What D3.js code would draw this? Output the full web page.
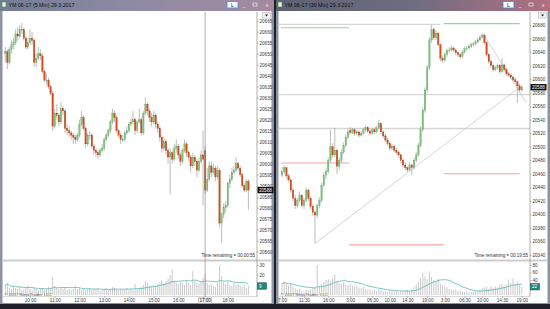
<!DOCTYPE html>
<html>
<head>
<meta charset="utf-8">
<script src="https://cdn.jsdelivr.net/npm/d3@7/dist/d3.min.js"></script>
<style>
  html, body { margin: 0; padding: 0; background: #1d2029; overflow: hidden; }
  svg { display: block; font-family: "Liberation Sans", Arial, sans-serif; }
</style>
</head>
<body>
<svg id="screen" width="550" height="309"></svg>
<script>
// ---- left window: YM 06-17 (5 Min), bars as [open, high, low, close]
var leftBars = [
  [20650,20653,20646,20651],[20651,20652,20643,20646],[20646,20653,20645,20652],[20652,20656,20650,20654],
  [20654,20657,20652,20655],[20655,20661,20654,20659],[20659,20662,20656,20658],[20658,20663,20657,20661],
  [20661,20664,20659,20661],[20661,20662,20656,20657],[20657,20658,20652,20653],[20653,20657,20652,20655],
  [20655,20661,20654,20657],[20657,20660,20654,20656],[20656,20657,20644,20646],[20646,20650,20644,20648],
  [20648,20653,20647,20650],[20650,20652,20647,20649],[20649,20650,20641,20642],[20642,20643,20637,20638],
  [20638,20641,20636,20638],[20638,20639,20634,20635],[20635,20636,20631,20632],[20632,20633,20615,20617],
  [20617,20625,20616,20623],[20623,20627,20620,20622],[20622,20623,20617,20619],[20619,20628,20618,20625],
  [20625,20626,20622,20624],[20624,20625,20614,20616],[20616,20618,20613,20615],[20615,20617,20612,20614],
  [20614,20615,20611,20613],[20613,20614,20609,20612],[20612,20613,20609,20611],[20611,20614,20610,20613],
  [20613,20620,20612,20618],[20618,20624,20617,20621],[20621,20622,20615,20616],[20616,20617,20607,20609],
  [20609,20614,20608,20613],[20613,20615,20611,20613],[20613,20614,20607,20608],[20608,20609,20604,20606],
  [20606,20607,20603,20605],[20605,20606,20602,20604],[20604,20607,20603,20606],[20606,20609,20605,20607],
  [20607,20612,20606,20611],[20611,20614,20610,20613],[20613,20616,20612,20615],[20615,20620,20614,20619],
  [20619,20625,20618,20623],[20623,20624,20619,20621],[20621,20622,20614,20615],[20615,20616,20612,20613],
  [20613,20614,20609,20611],[20611,20613,20610,20611],[20611,20615,20610,20614],[20614,20617,20613,20615],
  [20615,20619,20614,20618],[20618,20621,20617,20619],[20619,20624,20618,20620],[20620,20621,20613,20615],
  [20615,20620,20614,20619],[20619,20625,20618,20620],[20620,20621,20613,20614],[20614,20624,20613,20623],
  [20623,20630,20622,20627],[20627,20628,20622,20624],[20624,20625,20619,20621],[20621,20623,20617,20619],
  [20619,20624,20618,20622],[20622,20623,20616,20618],[20618,20619,20614,20616],[20616,20617,20610,20612],
  [20612,20613,20605,20607],[20607,20612,20606,20610],[20610,20611,20604,20606],[20606,20607,20600,20603],
  [20603,20607,20586,20605],[20605,20606,20600,20602],[20602,20609,20601,20607],[20607,20611,20605,20608],
  [20608,20609,20602,20604],[20604,20605,20599,20601],[20601,20607,20600,20606],[20606,20611,20605,20609],
  [20609,20610,20603,20605],[20605,20606,20601,20603],[20603,20604,20596,20599],[20599,20605,20598,20603],
  [20603,20604,20599,20601],[20601,20602,20594,20597],[20597,20603,20596,20601],[20601,20606,20600,20604],
  [20604,20615,20581,20602],[20606,20608,20586,20588],[20588,20598,20587,20593],[20593,20601,20592,20599],
  [20599,20601,20594,20596],[20596,20600,20595,20598],[20598,20599,20592,20594],[20594,20599,20593,20597],
  [20597,20598,20571,20573],[20573,20578,20564,20577],[20577,20582,20575,20580],[20580,20583,20578,20581],
  [20581,20592,20580,20591],[20591,20595,20589,20593],[20593,20598,20592,20596],[20596,20599,20595,20597],
  [20597,20603,20596,20600],[20600,20601,20597,20598],[20598,20599,20594,20595],[20595,20596,20589,20590],
  [20590,20591,20587,20588],[20588,20593,20587,20592],[20592,20593,20579,20588]
];
var leftVolume = [
  10,12,7,6,9,7,6,8,5,6,7,9,6,5,7,6,5,6,7,5,6,8,7,
  18,
  9,7,6,8,6,7,5,6,5,6,9,6,7,5,6,5,6,7,5,6,5,6,4,5,6,7,5,
  6,8,7,6,5,6,5,6,7,5,6,5,11,6,7,8,
  10,14,12,9,8,10,9,11,13,15,12,14,16,20,26,14,12,11,13,12,10,14,12,10,24,14,12,11,13,
  17,21,12,10,11,9,8,12,29,19,13,11,14,10,9,12,10,11,9,8,10,7,9
];
var leftPriceTicks = [20560,20565,20570,20575,20580,20585,20590,20595,20600,20605,20610,
                      20615,20620,20625,20630,20635,20640,20645,20650,20655,20660,20665];
var leftVolTicks = [20, 30];
var leftTimeBars = [12, 24, 36, 48, 60, 72, 84, 96, 108];
var leftTimeLabels = ["10:00","11:00","12:00","13:00","14:00","15:00","16:00","17:00","18:00"];
var leftCrossBar = 97;

// ---- right window: YM 06-17 (30 Min)
var rightBars = [
  [20458,20470,20455,20463],[20463,20472,20460,20469],[20469,20470,20454,20457],[20457,20460,20448,20451],
  [20451,20453,20432,20436],[20436,20440,20420,20424],[20424,20428,20408,20413],[20413,20425,20410,20421],
  [20421,20434,20418,20428],[20428,20430,20410,20413],[20413,20424,20408,20421],[20421,20440,20418,20436],
  [20436,20438,20420,20424],[20424,20427,20408,20412],[20412,20415,20398,20403],[20403,20406,20357,20399],
  [20399,20416,20395,20413],[20413,20425,20409,20421],[20421,20447,20418,20443],[20443,20462,20440,20458],
  [20458,20468,20452,20463],[20463,20484,20460,20480],[20480,20525,20477,20500],[20500,20505,20484,20488],
  [20488,20528,20485,20495],[20495,20497,20460,20471],[20471,20484,20466,20480],[20480,20496,20476,20492],
  [20492,20506,20489,20502],[20502,20518,20499,20514],[20514,20526,20511,20522],[20524,20529,20518,20521],
  [20521,20528,20519,20525],[20525,20527,20516,20520],[20520,20525,20517,20522],[20522,20524,20514,20517],
  [20517,20523,20515,20520],[20520,20528,20518,20525],[20525,20531,20522,20528],[20528,20530,20520,20523],
  [20523,20526,20517,20520],[20520,20527,20518,20525],[20525,20528,20519,20522],[20522,20531,20520,20528],
  [20528,20540,20526,20534],[20534,20536,20519,20522],[20522,20524,20513,20516],[20516,20519,20507,20510],
  [20510,20513,20502,20505],[20505,20508,20495,20498],[20498,20504,20494,20501],[20501,20503,20492,20495],
  [20495,20498,20489,20492],[20492,20494,20484,20488],[20488,20490,20476,20480],[20480,20482,20470,20473],
  [20473,20477,20465,20469],[20469,20471,20462,20466],[20466,20477,20464,20473],[20473,20475,20458,20469],
  [20469,20484,20467,20480],[20480,20492,20477,20488],[20488,20506,20485,20502],[20502,20530,20499,20525],
  [20525,20558,20522,20554],[20554,20588,20550,20584],[20584,20621,20580,20617],[20617,20662,20613,20658],
  [20658,20680,20654,20673],[20673,20676,20658,20661],[20661,20672,20658,20668],[20668,20670,20648,20651],
  [20651,20653,20626,20631],[20631,20635,20624,20628],[20628,20640,20626,20636],[20636,20645,20633,20642],
  [20642,20647,20639,20643],[20643,20650,20641,20646],[20646,20648,20640,20643],[20643,20645,20636,20639],
  [20639,20641,20633,20636],[20636,20638,20630,20633],[20633,20643,20631,20640],[20640,20648,20638,20645],
  [20645,20649,20642,20646],[20646,20651,20644,20648],[20648,20654,20646,20651],[20651,20655,20648,20652],
  [20652,20658,20650,20655],[20655,20661,20653,20658],[20658,20665,20656,20662],[20662,20668,20660,20665],
  [20665,20667,20651,20654],[20654,20656,20633,20636],[20636,20638,20623,20626],[20626,20629,20617,20620],
  [20620,20622,20611,20614],[20614,20620,20612,20617],[20617,20623,20614,20620],[20620,20622,20608,20611],
  [20611,20631,20609,20621],[20621,20623,20611,20614],[20614,20617,20605,20608],[20608,20611,20603,20606],
  [20606,20609,20600,20603],[20603,20605,20596,20599],[20599,20602,20593,20596],[20596,20598,20565,20590],
  [20590,20593,20581,20584],[20584,20591,20582,20588]
];
var rightVolume = [
  30,36,28,25,30,22,18,14,16,12,
  10,14,12,15,20,20,80,24,30,35,
  40,42,38,45,55,36,32,30,34,28,
  26,30,24,22,25,20,18,22,16,14,
  15,12,14,10,16,12,10,11,8,12,
  10,9,12,8,10,9,11,14,10,16,
  22,28,35,45,60,50,42,63,48,40,
  36,44,30,26,24,20,16,14,12,15,
  10,12,9,8,10,7,9,8,11,10,
  14,18,20,22,16,24,18,22,20,26,
  30,24,28,41,32,44,30,36,28,22
];
var rightPriceTicks = [20340,20360,20380,20400,20420,20440,20460,20480,20500,20520,
                       20540,20560,20580,20600,20620,20640,20660,20680];
var rightVolTicks = [40, 60, 80];
var rightTimeBars = [0, 10, 21, 31, 41, 49, 57, 66, 74, 83, 91, 100, 109];
var rightTimeLabels = ["7:00","11:30","16:00","3:00","06:30","10:00","14:30",
                       "19:00","3:00","06:30","10:00","14:30","19:00"];
// drawing objects: [price, fromBar, toBar]
var rightGrayLevels = [[20681, -2, 72], [20577, -2, 113], [20527, -2, 113]];
var rightGreenLevels = [[20676, -0.5, 30.5], [20682, 73.5, 108]];
var rightRedLevels = [[20476, -0.5, 30.5], [20355, 30.5, 73.5], [20460, 73.5, 108]];
// trend lines: [bar1, price1, bar2, price2]
var rightTrendLines = [[15, 20357, 108, 20588], [91.5, 20667, 111, 20565]];

var svg = d3.select("#screen");
var defs = svg.append("defs");

function gradient(id, stops) {
  var lg = defs.append("linearGradient").attr("id", id);
  stops.forEach(function (s) {
    lg.append("stop").attr("offset", s[0]).attr("stop-color", s[1]);
  });
}
gradient("titleL", [["0%", "#727c93"], ["45%", "#8d8aa3"], ["100%", "#a58aa0"]]);
gradient("titleR", [["0%", "#5c6272"], ["50%", "#6f6d80"], ["100%", "#b07080"]]);

// window chrome
function drawWindow(x0, x1, title, grad) {
  var w = svg.append("g");
  w.append("rect").attr("x", x0).attr("y", 0).attr("width", x1 - x0).attr("height", 304)
    .style("fill", "#8e93a3");
  w.append("rect").attr("x", x0).attr("y", 0).attr("width", x1 - x0).attr("height", 11)
    .style("fill", "url(#" + grad + ")");
  w.append("rect").attr("x", x0 + 2).attr("y", 2).attr("width", 4).attr("height", 5)
    .style("fill", "#e8f0e0").style("stroke", "#4f8a4f").style("stroke-width", 0.6);
  w.append("text").attr("x", x0 + 8.5).attr("y", 7.3).text(title)
    .style("font-size", "5.3px").style("fill", "#101018");
  // caption buttons
  var bx = x1 - 47;
  w.append("rect").attr("x", bx).attr("y", 1.5).attr("width", 11).attr("height", 6.5)
    .style("fill", "#f4f6fa").style("stroke", "#3d8fd8").style("stroke-width", 0.8);
  w.append("text").attr("x", bx + 5.5).attr("y", 6.8).text("L").attr("text-anchor", "middle")
    .style("font-size", "5px").style("fill", "#223");
  w.append("text").attr("x", bx + 17).attr("y", 6.8).text("_").attr("text-anchor", "middle")
    .style("font-size", "5px").style("fill", "#eee");
  w.append("rect").attr("x", bx + 26).attr("y", 3).attr("width", 4).attr("height", 3)
    .style("fill", "none").style("stroke", "#eee").style("stroke-width", 0.7);
  w.append("text").attr("x", bx + 40).attr("y", 7).text("x").attr("text-anchor", "middle")
    .style("font-size", "5.5px").style("fill", "#eee");
  w.append("rect").attr("x", x0 + 2.5).attr("y", 11).attr("width", x1 - x0 - 5).attr("height", 292)
    .style("fill", "#ffffff");
  return w;
}

drawWindow(0, 274, "YM 06-17 (5 Min)  29.3.2017", "titleL");
drawWindow(276, 550, "YM 06-17 (30 Min)  29.3.2017", "titleR");

var fmt = d3.format("d");

function drawChart(o) {
  var g = svg.append("g");
  var x = d3.scaleLinear().domain([0, o.bars.length - 1]).range(o.xRange);
  var y = d3.scaleLinear().domain(o.priceDomain).range(o.priceRange);
  var yv = d3.scaleLinear().domain(o.volDomain).range(o.volRange);

  var clipId = o.id + "clip";
  defs.append("clipPath").attr("id", clipId).append("rect")
    .attr("x", o.left).attr("y", 12).attr("width", o.axisX - o.left).attr("height", 247);

  // panel separator and bottom rule
  g.append("rect").attr("x", o.left).attr("y", 259.5).attr("width", o.right - o.left).attr("height", 2)
    .style("fill", "#cdcdcd");
  g.append("line").attr("x1", o.left).attr("x2", o.axisX).attr("y1", 296.5).attr("y2", 296.5)
    .style("stroke", "#bdbdbd").style("stroke-width", 0.6);

  var draw = g.append("g").attr("clip-path", "url(#" + clipId + ")");

  // drawing objects
  function levels(list, color, width) {
    draw.selectAll(null).data(list).enter().append("line")
      .attr("x1", function (d) { return x(d[1]); })
      .attr("x2", function (d) { return x(d[2]); })
      .attr("y1", function (d) { return y(d[0]); })
      .attr("y2", function (d) { return y(d[0]); })
      .style("stroke", color).style("stroke-width", width);
  }
  if (o.grayLevels) levels(o.grayLevels, "#d6d6d6", 1.3);
  if (o.greenLevels) levels(o.greenLevels, "#9dd09a", 1.1);
  if (o.redLevels) levels(o.redLevels, "#f4a3a0", 1.1);
  if (o.trendLines) {
    draw.selectAll(null).data(o.trendLines).enter().append("line")
      .attr("x1", function (d) { return x(d[0]); })
      .attr("y1", function (d) { return y(d[1]); })
      .attr("x2", function (d) { return x(d[2]); })
      .attr("y2", function (d) { return y(d[3]); })
      .style("stroke", "#b8b8b8").style("stroke-width", 0.6);
  }

  // candles
  var bars = draw.selectAll(".bar").data(o.bars).enter().append("g");
  bars.append("line")
    .attr("x1", function (d, i) { return x(i); })
    .attr("x2", function (d, i) { return x(i); })
    .attr("y1", function (d) { return y(d[1]); })
    .attr("y2", function (d) { return y(d[2]); })
    .style("stroke", "#8f8f8f").style("stroke-width", 0.6);
  bars.append("rect")
    .attr("x", function (d, i) { return x(i) - o.bodyW / 2; })
    .attr("y", function (d) { return y(Math.max(d[0], d[3])); })
    .attr("width", o.bodyW)
    .attr("height", function (d) { return Math.max(0.7, Math.abs(y(d[0]) - y(d[3]))); })
    .style("fill", function (d) { return d[3] > d[0] ? "#7cc47c" : (d[3] < d[0] ? "#d64d1c" : "#888"); })
    .style("stroke", function (d) { return d[3] >= d[0] ? "#5e9e5e" : "#a83a12"; })
    .style("stroke-width", 0.25);

  // volume
  g.selectAll(".vol").data(o.volume).enter().append("rect")
    .attr("x", function (d, i) { return x(i) - 0.5; })
    .attr("y", function (d) { return yv(d); })
    .attr("width", 1)
    .attr("height", function (d) { return yv(0) - yv(d); })
    .style("fill", "#c9c9c9");
  var sma = o.volume.map(function (d, i) {
    var s = o.volume.slice(Math.max(0, i - 13), i + 1);
    return d3.mean(s);
  });
  g.append("path").datum(sma)
    .attr("d", d3.line().x(function (d, i) { return x(i); }).y(function (d) { return yv(d); }))
    .style("fill", "none").style("stroke", "#5bb8ae").style("stroke-width", 0.8);

  // price axis
  var pa = g.append("g").attr("transform", "translate(" + o.axisX + ",0)")
    .call(d3.axisRight(y).tickValues(o.priceTicks).tickSize(1.5).tickPadding(1).tickFormat(fmt));
  var va = g.append("g").attr("transform", "translate(" + o.axisX + ",0)")
    .call(d3.axisRight(yv).tickValues(o.volTicks).tickSize(1.5).tickPadding(1).tickFormat(fmt));
  g.append("line").attr("x1", o.axisX).attr("x2", o.axisX).attr("y1", 12).attr("y2", 296.5)
    .style("stroke", "#7a7a7a").style("stroke-width", 0.6);
  // time axis (the tick under the crosshair label is drawn by the crosshair box)
  var ta = g.append("g").attr("transform", "translate(0,296.5)")
    .call(d3.axisBottom(x).tickValues(o.timeBars).tickSize(1.5).tickPadding(1)
      .tickFormat(function (d, i) { return d === o.crossLabelBar ? "" : o.timeLabels[i]; }));
  [pa, va, ta].forEach(function (a) {
    a.select(".domain").remove();
    a.selectAll("line").style("stroke", "#777").style("stroke-width", 0.5);
    a.selectAll("text").style("font-size", "4.6px").style("fill", "#3a3a3a")
      .style("font-family", "'Liberation Sans', Arial, sans-serif");
  });

  // crosshair
  if (o.crossBar !== undefined) {
    g.append("line").attr("x1", x(o.crossBar)).attr("x2", x(o.crossBar)).attr("y1", 12).attr("y2", 297)
      .style("stroke", "#8a8a8a").style("stroke-width", 0.7);
    g.append("rect").attr("x", x(o.crossBar) - 6.5).attr("y", 298).attr("width", 13).attr("height", 5.5)
      .style("fill", "#f0f0f0").style("stroke", "#777").style("stroke-width", 0.4);
    g.append("text").attr("x", x(o.crossBar)).attr("y", 302.3).attr("text-anchor", "middle")
      .text(o.timeLabels[o.timeBars.indexOf(o.crossLabelBar)])
      .style("font-size", "4.6px").style("fill", "#222");
  }

  // last price marker
  var last = o.bars[o.bars.length - 1][3];
  g.append("rect").attr("x", o.axisX + 0.5).attr("y", y(last) - 3.2).attr("width", 16).attr("height", 6.4)
    .style("fill", "#111");
  g.append("text").attr("x", o.axisX + 2).attr("y", y(last) + 1.7).text(fmt(last))
    .style("font-size", "4.6px").style("fill", "#fff");
  var lastVol = o.volume[o.volume.length - 1];
  g.append("rect").attr("x", o.axisX + 0.5).attr("y", yv(lastVol) - 3.2).attr("width", 9).attr("height", 6.4)
    .style("fill", "#1f8a80").style("stroke", "#0d3f3a").style("stroke-width", 0.5);
  g.append("text").attr("x", o.axisX + 2).attr("y", yv(lastVol) + 1.7).text(fmt(lastVol))
    .style("font-size", "4.6px").style("fill", "#fff");

  // dropdown button on the axis
  g.append("rect").attr("x", o.right - 9).attr("y", 12.5).attr("width", 8).attr("height", 5.5)
    .style("fill", "#f2f2f2").style("stroke", "#999").style("stroke-width", 0.4);
  g.append("path").attr("d", "M" + (o.right - 6.6) + ",14.6h3.2l-1.6,1.8z").style("fill", "#222");

  g.append("text").attr("x", o.axisX - 2).attr("y", 256.5).attr("text-anchor", "end")
    .text(o.remaining).style("font-size", "4.5px").style("fill", "#333");
  g.append("text").attr("x", o.left + 2).attr("y", 295.5)
    .text("\u00a9 2017 NinjaTrader, LLC").style("font-size", "4.3px").style("fill", "#555");
}

drawChart({
  id: "left", bars: leftBars, volume: leftVolume,
  left: 2.5, right: 271.5, axisX: 257, xRange: [5.3, 248.4], bodyW: 1.5,
  priceDomain: [20560, 20665], priceRange: [251.7, 20.7],
  volDomain: [0, 30], volRange: [295, 265],
  priceTicks: leftPriceTicks, volTicks: leftVolTicks,
  timeBars: leftTimeBars, timeLabels: leftTimeLabels,
  crossBar: leftCrossBar, crossLabelBar: 96,
  remaining: "Time remaining = 00:00:55"
});

drawChart({
  id: "right", bars: rightBars, volume: rightVolume,
  left: 278.5, right: 547.5, axisX: 530, xRange: [282, 521.8], bodyW: 1.5,
  priceDomain: [20340, 20680], priceRange: [255, 25],
  volDomain: [0, 80], volRange: [295, 265],
  priceTicks: rightPriceTicks, volTicks: rightVolTicks,
  timeBars: rightTimeBars, timeLabels: rightTimeLabels,
  grayLevels: rightGrayLevels, greenLevels: rightGreenLevels, redLevels: rightRedLevels,
  trendLines: rightTrendLines,
  remaining: "Time remaining = 00:19:55"
});
</script>
</body>
</html>
